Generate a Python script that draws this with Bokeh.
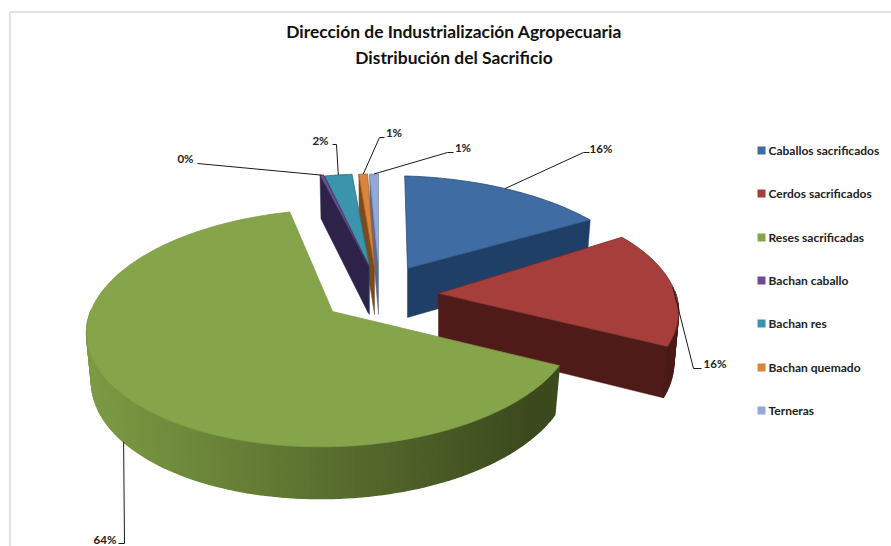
import math
from bokeh.plotting import figure
from bokeh.embed import file_html
from bokeh.resources import INLINE
from bokeh.core.properties import value

# --- data ---
title_lines = ["Dirección de Industrialización Agropecuaria", "Distribución del Sacrificio"]
names = ["Caballos sacrificados", "Cerdos sacrificados", "Reses sacrificadas", "Bachan caballo",
         "Bachan res", "Bachan quemado", "Terneras"]
shares = [15.9, 16.3, 63.9, 0.3, 2.2, 0.7, 0.7]

# --- colours ---
top_colors = ["#3f6ca3", "#a63f3c", "#86a44a", "#6b4e8f", "#3a94ab", "#d9853b", "#94a9d3"]
edge_colors = ["#2a4d78", "#7a2c2a", "#7f9c48", "#4a3565", "#2b7286", "#a8652b", "#7d90b8"]
side_left = ["#1f3f66", "#4f1b18", "#7c9a43", "#2d2248", "#1b4f5e", "#7b4a1e", "#5a6a8c"]
side_right = ["#1f3f66", "#4a1a17", "#3c4a1e", "#2d2248", "#1b4f5e", "#7b4a1e", "#5a6a8c"]

# --- layout of the exploded 3-D pie (screen px) ---
R, S = 243.0, 113.0
persp = [0.16, 0.16, 0.14, 0.16, 0.16, 0.16, 0.16]
apex_x = [407, 438, 332, 368, 369, 374, 378]
apex_y = [268, 293, 311, 265, 266, 266, 266]
scale_x = [0.98, 0.975, 0.995, 0.95, 0.95, 0.95, 0.95]
scale_y = [0.95, 1.0, 1.03, 0.95, 0.95, 0.95, 0.95]
shear = [0.03, 0.0, -0.09, 0.0, 0.0, -0.02, 0.0]
tilt = [0.027, 0.0, 0.0, 0.0, 0.0, 0.0, 0.0]
depth = [49, 49, 47, 48, 48, 48, 48]
depth_persp = 0.1
bottom_scale = 0.98
draw_order = [0, 6, 5, 4, 3, 1, 2]

label_x = [600.5, 714.5, 104.5, 185, 320, 393.5, 462.5]
label_y = [148, 363, 539, 158, 140, 132, 147]
elbow_x = [[583, 589], [693, 701], [124, 118], [197, 197], [336, 332], [379, 384], [447, 453]]
elbow_y = [[152, 152], [368, 368], [543, 543], [163, 163], [144, 144], [137, 137], [152, 152]]

legend_y = [150, 193, 237, 280, 323, 367, 410]

W, H = 891, 546
p = figure(width=W, height=H, x_range=(0, W), y_range=(H, 0), output_backend="svg",
           toolbar_location=None, min_border=0, outline_line_color=None)
p.axis.visible = False
p.grid.visible = False
p.background_fill_color = "white"
p.border_fill_color = "white"

# frame
p.line([9.5, 9.5, W], [H, 11.5, 11.5], line_color="#e2e2e2", line_width=2)


def to_rgb(h):
    return [int(h[i:i + 2], 16) for i in (1, 3, 5)]


def mix(a, b, t):
    t = max(0, min(1, t))
    ca, cb = to_rgb(a), to_rgb(b)
    return "#%02x%02x%02x" % tuple(round(ca[i] + (cb[i] - ca[i]) * t) for i in range(3))


def top_pt(i, deg):
    th = math.radians(deg)
    w = 1 + persp[i] * math.cos(th)
    dx = scale_x[i] * R * math.sin(th) / w
    dy = -scale_y[i] * S * math.cos(th) / w
    return apex_x[i] + dx + shear[i] * dy, apex_y[i] + dy + tilt[i] * dx


def bottom_pt(i, deg):
    x, y = top_pt(i, deg)
    d = depth[i] * (1 - depth_persp * math.cos(math.radians(deg)))
    return apex_x[i] + bottom_scale * (x - apex_x[i]), y + d


def bottom_apex(i):
    return apex_x[i], apex_y[i] + depth[i]


# angles from the shares
starts, ends = [], []
acc = 0.0
total = sum(shares)
for v in shares:
    starts.append(acc)
    acc += v / total * 360.0
    ends.append(acc)

for i in draw_order:
    a, b = starts[i], ends[i]
    # visible radial cut faces
    for deg, vis in ((a, math.sin(math.radians(a)) < -1e-6), (b, math.sin(math.radians(b)) > 1e-6)):
        if vis:
            tx, ty = top_pt(i, deg)
            bx, by = bottom_pt(i, deg)
            ax2, ay2 = bottom_apex(i)
            p.patch([apex_x[i], tx, bx, ax2], [apex_y[i], ty, by, ay2],
                    fill_color=side_left[i], line_color=side_left[i], line_width=0.5)
    # visible outer rim, as shaded bands
    n = max(2, int((b - a) / 1.5))
    xs, ys, cs = [], [], []
    for k in range(n):
        d1 = a + (b - a) * k / n
        d2 = a + (b - a) * (k + 1) / n
        if math.cos(math.radians((d1 + d2) / 2)) < 0.02:
            x1, y1 = top_pt(i, d1)
            x2, y2 = top_pt(i, d2)
            x3, y3 = bottom_pt(i, d2)
            x4, y4 = bottom_pt(i, d1)
            xs.append([x1, x2, x3, x4])
            ys.append([y1, y2, y3, y4])
            cs.append(mix(side_left[i], side_right[i], ((x1 + x2) / 2 - 90) / 440.0))
    if xs:
        p.patches(xs, ys, fill_color=cs, line_color=cs, line_width=1.6)
    # top face
    m = max(3, int((b - a) / 1.0))
    pts = [top_pt(i, a + (b - a) * k / m) for k in range(m + 1)]
    p.patch([apex_x[i]] + [q[0] for q in pts], [apex_y[i]] + [q[1] for q in pts],
            fill_color=top_colors[i], line_color=edge_colors[i], line_width=0.8)

# leader lines, starting at each slice's mid-angle
lx, ly = [], []
for i in range(len(shares)):
    mid = (starts[i] + ends[i]) / 2
    sx, sy = bottom_pt(i, mid) if math.cos(math.radians(mid)) < -0.4 else top_pt(i, mid)
    lx.append([sx] + elbow_x[i])
    ly.append([sy] + elbow_y[i])
p.multi_line(lx, ly, line_color="#1a1a1a", line_width=1)

font = value("Lato")
p.text(label_x, label_y, text=[f"{round(v)}%" for v in shares], text_font=font, text_font_style="bold",
       text_font_size="11.5px", text_color="#222222", text_align="center", text_baseline="middle")

# title
p.text([453.5, 453.5], [31, 57], text=title_lines, text_font=font, text_font_style="bold",
       text_font_size="17.4px", text_color="#111111", text_align="center", text_baseline="middle")

# legend
p.quad(left=[757] * 7, right=[765] * 7, top=[y - 4 for y in legend_y], bottom=[y + 4 for y in legend_y],
       fill_color=top_colors, line_color=None)
p.text([768] * 7, legend_y, text=names, text_font=font, text_font_style="bold",
       text_font_size="12px", text_color="#222222", text_align="left", text_baseline="middle")

open("out.html", "w").write(file_html(p, INLINE))
